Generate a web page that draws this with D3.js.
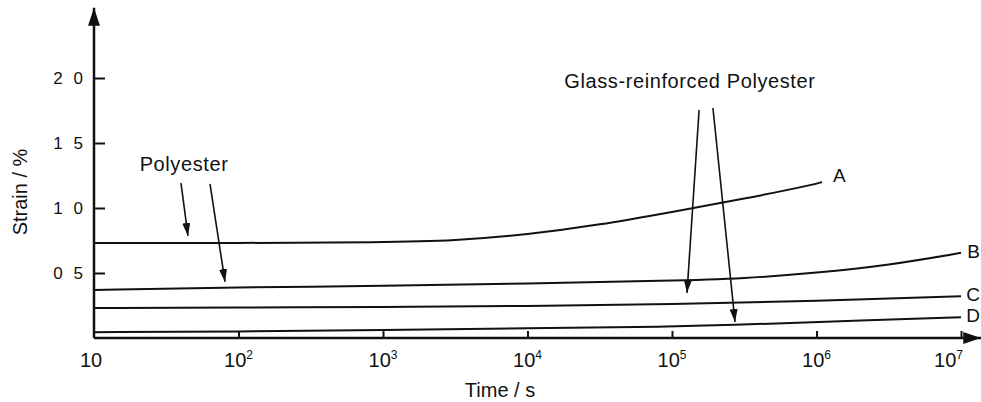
<!DOCTYPE html>
<html>
<head>
    <meta charset="UTF-8">
    <title>Creep strain of polyester</title>
    <script src="https://cdn.jsdelivr.net/npm/d3@7"></script>
    <style>
        body { margin: 0; background: #fff; }
        svg text { font-family: "Liberation Sans", Arial, sans-serif; fill: #111; }
    </style>
</head>
<body>
<script>

// curve data (time in s, strain in %)
const timeA = [10, 100, 1000, 3162, 1e4, 31623, 1e5, 316228, 1e6, 1.09e6];
const strainA = [0.73, 0.73, 0.736, 0.748, 0.795, 0.87, 0.97, 1.07, 1.185, 1.2];
const timeB = [10, 100, 1000, 1e4, 1e5, 316228, 1e6, 3162278, 1e7];
const strainB = [0.37, 0.39, 0.40, 0.42, 0.44, 0.458, 0.50, 0.56, 0.655];
const timeC = [10, 100, 1000, 1e4, 1e5, 1e6, 1e7];
const strainC = [0.231, 0.234, 0.238, 0.246, 0.26, 0.285, 0.322];
const timeD = [10, 100, 1000, 1e4, 1e5, 251189, 1e6, 1e7];
const strainD = [0.045, 0.05, 0.06, 0.075, 0.087, 0.10, 0.122, 0.16];
const curveNames = ["A", "B", "C", "D"];

const xTicks = [10, 1e2, 1e3, 1e4, 1e5, 1e6, 1e7];
const yTicks = [0.5, 1.0, 1.5, 2.0];

// annotation pointers [time, strain] from -> to
const polyPointers = [[[40, 1.192], [44.7, 0.785]], [[63.5, 1.185], [80.7, 0.431]]];
const glassPointers = [[[1.54e5, 1.754], [1.27e5, 0.346]], [[1.92e5, 1.769], [2.73e5, 0.123]]];
const notes = [
    {text: "Polyester", t: 42, s: 1.285},
    {text: "Glass-reinforced Polyester", t: 1.33e5, s: 1.923}
];

const width = 981, height = 402;

const svg = d3.select("body").append("svg")
    .attr("width", width)
    .attr("height", height);

const x = d3.scaleLog().domain([10, 1e7]).range([94, 961]);
const y = d3.scaleLinear().domain([0, 2]).range([338, 78]);

const defs = svg.append("defs");
defs.append("marker")
    .attr("id", "head")
    .attr("viewBox", "0 0 13 8")
    .attr("refX", 13).attr("refY", 4)
    .attr("markerWidth", 13).attr("markerHeight", 8)
    .attr("markerUnits", "userSpaceOnUse")
    .attr("orient", "auto")
  .append("path")
    .attr("d", "M0,0L13,4L0,8Z")
    .attr("fill", "#111");
defs.append("marker")
    .attr("id", "axisHead")
    .attr("viewBox", "0 0 18 12")
    .attr("refX", 18).attr("refY", 6)
    .attr("markerWidth", 18).attr("markerHeight", 12)
    .attr("markerUnits", "userSpaceOnUse")
    .attr("orient", "auto")
  .append("path")
    .attr("d", "M0,0L18,6L0,12Z")
    .attr("fill", "#111");

// axes lines with arrow heads
svg.append("line")
    .attr("x1", x(10)).attr("y1", y(0))
    .attr("x2", x(10)).attr("y2", y(2.54))
    .attr("stroke", "#111").attr("stroke-width", 2.5)
    .attr("marker-end", "url(#axisHead)");
svg.append("line")
    .attr("x1", x(10)).attr("y1", y(0))
    .attr("x2", x(10 ** 7.14)).attr("y2", y(0))
    .attr("stroke", "#111").attr("stroke-width", 2.5)
    .attr("marker-end", "url(#axisHead)");

// y ticks
const gy = svg.append("g")
    .attr("transform", `translate(${x(10)},0)`)
    .call(d3.axisLeft(y)
        .tickValues(yTicks)
        .tickSizeInner(-11)
        .tickSizeOuter(0)
        .tickPadding(8)
        .tickFormat(d => d.toFixed(1).replace(".", " ")));
gy.select(".domain").remove();
gy.selectAll(".tick line").attr("stroke", "#111").attr("stroke-width", 2);
gy.selectAll(".tick text")
    .attr("font-size", 17)
    .attr("letter-spacing", "3px")
    .attr("font-family", null);

// x ticks
const gx = svg.append("g")
    .attr("transform", `translate(0,${y(0)})`)
    .call(d3.axisBottom(x)
        .tickValues(xTicks.slice(1))
        .tickSizeInner(-7)
        .tickSizeOuter(0)
        .tickFormat(""));
gx.select(".domain").remove();
gx.selectAll(".tick line").attr("stroke", "#111").attr("stroke-width", 2);

const last = xTicks.length - 1;
const xl = svg.append("g").selectAll("text")
    .data(xTicks)
    .join("text")
    .attr("x", (d, i) => i === last ? x(d) + 2 : i === 0 ? x(d) - 3 : x(d))
    .attr("y", 367)
    .attr("text-anchor", (d, i) => i === last ? "end" : "middle")
    .attr("font-size", 20);
xl.append("tspan").text("10");
xl.filter(d => d > 10).append("tspan")
    .attr("dy", -8)
    .attr("font-size", 12)
    .text(d => Math.round(Math.log10(d)));

svg.append("text")
    .attr("x", 500).attr("y", 397)
    .attr("text-anchor", "middle")
    .attr("font-size", 20)
    .text("Time / s");

svg.append("text")
    .attr("transform", "translate(27,192) rotate(-90)")
    .attr("text-anchor", "middle")
    .attr("font-size", 20)
    .text("Strain / %");

// curves
const series = [[timeA, strainA], [timeB, strainB], [timeC, strainC], [timeD, strainD]]
    .map(([ts, ss], i) => ({name: curveNames[i], pts: ts.map((t, j) => [t, ss[j]])}));

const line = d3.line()
    .x(d => x(d[0]))
    .y(d => y(d[1]))
    .curve(d3.curveBasis);

svg.append("g").selectAll("path")
    .data(series)
    .join("path")
    .attr("d", d => line(d.pts))
    .attr("fill", "none")
    .attr("stroke", "#111")
    .attr("stroke-width", 2);

// end labels, pulled in so they stay inside the picture
svg.append("g").selectAll("text")
    .data(series)
    .join("text")
    .attr("x", d => x(d.pts[d.pts.length - 1][0]) + 11)
    .attr("y", d => y(d.pts[d.pts.length - 1][1]) + (d.name === "A" ? 0 : 5))
    .attr("font-size", 19)
    .text(d => d.name)
    .each(function() {
        const b = this.getBBox();
        if (b.x + b.width > width - 1) d3.select(this).attr("x", width - 1 - b.width);
    });

// annotations
svg.append("g").selectAll("line")
    .data(polyPointers.concat(glassPointers))
    .join("line")
    .attr("x1", d => x(d[0][0])).attr("y1", d => y(d[0][1]))
    .attr("x2", d => x(d[1][0])).attr("y2", d => y(d[1][1]))
    .attr("stroke", "#111")
    .attr("stroke-width", 1.6)
    .attr("marker-end", "url(#head)");

svg.append("g").selectAll("text")
    .data(notes)
    .join("text")
    .attr("x", d => x(d.t))
    .attr("y", d => y(d.s))
    .attr("text-anchor", "middle")
    .attr("font-size", 20)
    .attr("letter-spacing", "0.6px")
    .text(d => d.text);

</script>
</body>
</html>
